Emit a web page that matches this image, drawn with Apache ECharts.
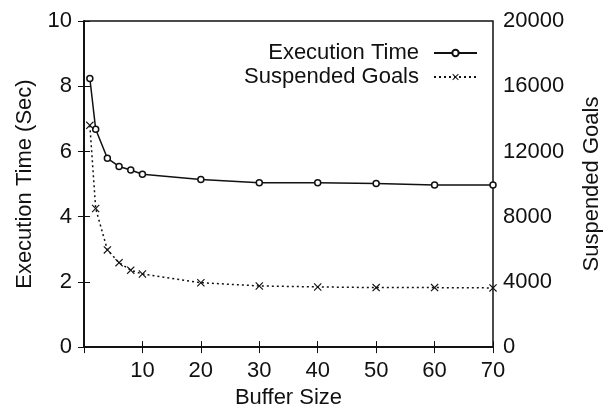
<!DOCTYPE html>
<html>
<head>
<meta charset="utf-8">
<script src="https://cdn.jsdelivr.net/npm/echarts@6/dist/echarts.min.js"></script>
<style>
  html, body { margin: 0; padding: 0; background: #fff; }
  #chart { width: 611px; height: 414px; }
</style>
</head>
<body>
<div id="chart"></div>
<script>
const bufferSizes = [1, 2, 4, 6, 8, 10, 20, 30, 40, 50, 60, 70];
const execTime = [8.24, 6.68, 5.79, 5.54, 5.43, 5.3, 5.14, 5.04, 5.04, 5.02, 4.97, 4.97];
const suspendedGoals = [13600, 8500, 5960, 5180, 4720, 4480, 3950, 3750, 3690, 3650, 3650, 3630];
const xTicks = [0, 70, 10];
const leftTicks = [0, 10, 2];
const rightTicks = [0, 20000, 4000];

const font = "Liberation Sans";
const ink = "#111";
const crossPath =
  "path://M0,1L1,0L5,4L9,0L10,1L6,5L10,9L9,10L5,6L1,10L0,9L4,5Z";

const chart = echarts.init(document.getElementById("chart"));

const textStyle = { fontFamily: font, fontSize: 22, color: ink };

chart.setOption({
  animation: false,
  backgroundColor: "#fff",
  textStyle: textStyle,
  grid: {
    left: 84, right: 113, top: 21, bottom: 57,
    show: true, borderColor: ink, borderWidth: 1.5,
  },
  legend: [
    {
      data: ["Execution Time"],
      right: 133, top: 42, align: "right", padding: 0,
      itemWidth: 43, itemHeight: 8, itemGap: 0,
      textStyle: { ...textStyle, padding: [0, 10, 0, 0] },
    },
    {
      data: ["Suspended Goals"],
      right: 133, top: 66, align: "right", padding: 0,
      itemWidth: 43, itemHeight: 8, itemGap: 0,
      textStyle: { ...textStyle, padding: [0, 10, 0, 0] },
    },
  ],
  xAxis: [
    {
      type: "value",
      min: xTicks[0], max: xTicks[1], interval: xTicks[2],
      name: "Buffer Size",
      nameLocation: "middle",
      nameGap: 38,
      nameTextStyle: textStyle,
      axisLine: { lineStyle: { color: ink, width: 1.5 } },
      axisTick: { inside: true, length: 6, lineStyle: { color: ink } },
      axisLabel: {
        ...textStyle, margin: 13,
        formatter: (v) => (v === 0 ? "" : String(v)),
      },
      splitLine: { show: false },
    },
    {
      type: "value",
      position: "top",
      min: xTicks[0], max: xTicks[1], interval: xTicks[2],
      axisLine: { lineStyle: { color: ink, width: 1.5 } },
      axisTick: { inside: true, length: 6, lineStyle: { color: ink } },
      axisLabel: { show: false },
      splitLine: { show: false },
    },
  ],
  yAxis: [
    {
      type: "value",
      min: leftTicks[0], max: leftTicks[1], interval: leftTicks[2],
      name: "Execution Time (Sec)",
      nameLocation: "middle",
      nameGap: 48,
      nameTextStyle: textStyle,
      axisLine: { show: true, lineStyle: { color: ink, width: 1.5 } },
      axisTick: { show: true, inside: true, length: 6, lineStyle: { color: ink } },
      axisLabel: { ...textStyle, margin: 12 },
      splitLine: { show: false },
    },
    {
      type: "value",
      position: "right",
      min: rightTicks[0], max: rightTicks[1], interval: rightTicks[2],
      name: "Suspended Goals",
      nameLocation: "middle",
      nameGap: 88,
      nameRotate: 90,
      nameTextStyle: textStyle,
      axisLine: { show: true, lineStyle: { color: ink, width: 1.5 } },
      axisTick: { show: true, inside: true, length: 6, lineStyle: { color: ink } },
      axisLabel: { ...textStyle, margin: 10, formatter: (v) => String(v) },
      splitLine: { show: false },
    },
  ],
  series: [
    {
      name: "Execution Time",
      type: "line",
      xAxisIndex: 0,
      yAxisIndex: 0,
      data: bufferSizes.map((x, i) => [x, execTime[i]]),
      symbol: "circle",
      symbolSize: 6,
      showAllSymbol: true,
      lineStyle: { color: ink, width: 1.5 },
      itemStyle: { color: "#fff", borderColor: ink, borderWidth: 1.5 },
    },
    {
      name: "Suspended Goals",
      type: "line",
      xAxisIndex: 0,
      yAxisIndex: 1,
      data: bufferSizes.map((x, i) => [x, suspendedGoals[i]]),
      symbol: crossPath,
      symbolSize: 8,
      showAllSymbol: true,
      lineStyle: { color: ink, width: 1.5, type: [2, 3] },
      itemStyle: { color: ink },
    },
  ],
});
</script>
</body>
</html>
